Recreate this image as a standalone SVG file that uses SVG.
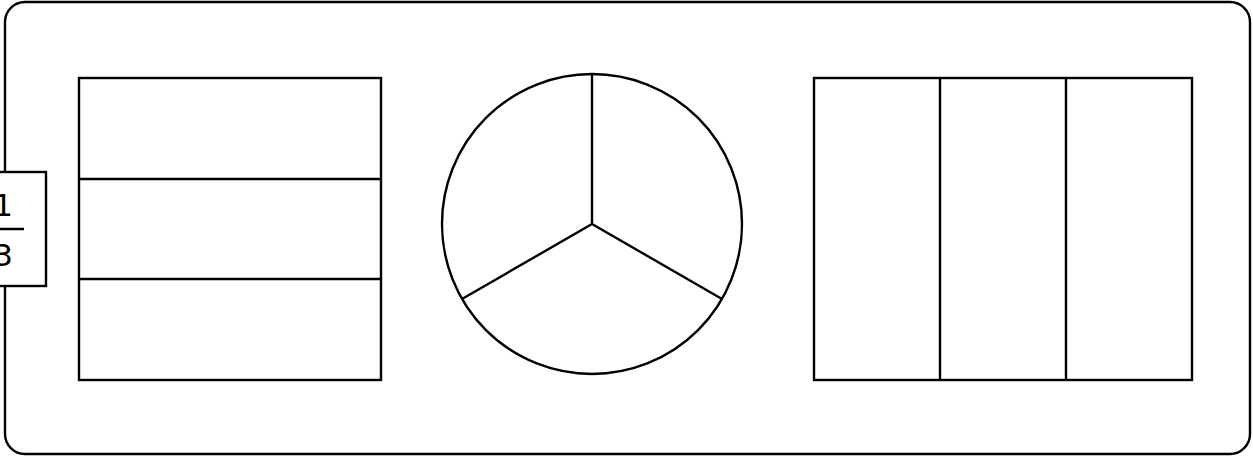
<svg xmlns="http://www.w3.org/2000/svg" width="1253" height="456" viewBox="0 0 1253 456">
<style>
.s{fill:none;stroke:#000;stroke-width:2.4}
.t{font-family:"DejaVu Sans",sans-serif;font-size:31px;fill:#000}
</style>
<rect width="1253" height="456" fill="#fff"/>
<g id="frame"><rect class="s" x="5" y="2" width="1245" height="452" rx="20" ry="20"/></g>
<g id="label">
<rect x="-40" y="172" width="86" height="114" fill="#fff" stroke="#000" stroke-width="2.4"/>
<text class="t" x="3" y="216" text-anchor="middle">1</text>
<line class="s" x1="-18" y1="229" x2="24" y2="229"/>
<text class="t" x="3" y="266" text-anchor="middle">3</text>
</g>
<g id="rect-horizontal">
<rect class="s" x="79" y="78" width="302" height="302"/>
<line class="s" x1="79" y1="179" x2="381" y2="179"/>
<line class="s" x1="79" y1="279" x2="381" y2="279"/>
</g>
<g id="circle">
<circle class="s" cx="592" cy="224" r="150"/>
<line class="s" x1="592" y1="224" x2="592" y2="74"/>
<line class="s" x1="592" y1="224" x2="462" y2="299"/>
<line class="s" x1="592" y1="224" x2="722" y2="299"/>
</g>
<g id="rect-vertical">
<rect class="s" x="814" y="78" width="378" height="302"/>
<line class="s" x1="940" y1="78" x2="940" y2="380"/>
<line class="s" x1="1066" y1="78" x2="1066" y2="380"/>
</g>
<g id="connectors"></g>
</svg>
